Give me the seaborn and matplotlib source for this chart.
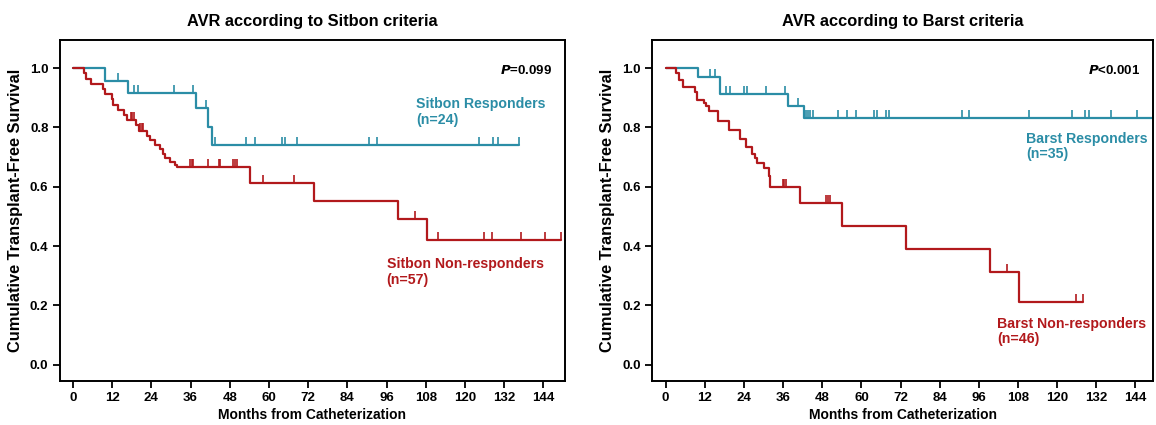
import numpy as np
import pandas as pd
import matplotlib
matplotlib.use('Agg')
import matplotlib.pyplot as plt
from matplotlib.path import Path
import seaborn as sns

# Sitbon responders (n=24)
sit_r_t = [9.9, 16.8, 37.6, 41.4, 42.5]
sit_r_s = [0.958, 0.917, 0.864, 0.800, 0.740]
sit_r_c = [13.8, 18.8, 19.8, 30.8, 36.9, 40.7, 43.6, 53.0, 55.6, 64.1, 65.0, 68.6,
           90.7, 93.1, 124.4, 128.7, 130.0, 136.6]

# Sitbon non-responders (n=57)
sit_n_t = [3.5, 4.1, 5.5, 9.1, 9.7, 11.9, 12.4, 13.7, 15.7, 16.5, 19.3, 20.3, 22.8,
           23.5, 25.2, 26.7, 27.5, 28.3, 29.8, 31.1, 31.8, 54.1, 73.9, 99.5, 108.4]
sit_n_s = [0.982, 0.965, 0.947, 0.930, 0.912, 0.895, 0.877, 0.860, 0.842, 0.825, 0.807,
           0.789, 0.772, 0.757, 0.742, 0.727, 0.712, 0.697, 0.684, 0.675, 0.665,
           0.611, 0.553, 0.490, 0.422]
sit_n_c = [17.8, 18.2, 18.8, 20.6, 21.1, 21.6, 35.9, 36.4, 36.9, 41.3, 44.6, 45.1,
           49.0, 49.5, 50.2, 58.3, 67.6, 104.6, 111.6, 125.9, 128.3, 137.1, 144.6, 149.5]

# Barst responders (n=35)
bar_r_t = [9.9, 16.5, 37.6, 42.5]
bar_r_s = [0.971, 0.912, 0.873, 0.831]
bar_r_c = [13.7, 15.1, 18.6, 19.6, 24.0, 24.8, 30.8, 36.7, 40.6, 43.1, 43.6, 44.1, 45.1,
           52.7, 55.6, 58.4, 64.0, 64.7, 67.6, 68.4, 90.8, 93.1, 111.4, 124.4, 128.5,
           129.8, 136.6, 144.4, 149.3]

# Barst non-responders (n=46)
bar_n_t = [3.3, 4.0, 5.3, 8.9, 9.6, 11.6, 12.4, 13.3, 16.0, 19.3, 22.8, 24.7, 26.5,
           27.5, 27.9, 30.0, 31.8, 32.1, 41.3, 54.0, 73.8, 99.5, 108.3]
bar_n_s = [0.983, 0.961, 0.938, 0.918, 0.893, 0.882, 0.873, 0.854, 0.822, 0.792, 0.760,
           0.735, 0.712, 0.696, 0.679, 0.662, 0.636, 0.598, 0.546, 0.467, 0.390, 0.312,
           0.211]
bar_n_c = [35.9, 36.4, 36.9, 41.3, 49.0, 49.7, 50.4, 104.6, 125.7, 127.9]

TEAL = '#2b8da6'
RED = '#b2191c'

sns.set_theme(style='white')
plt.rcParams['font.family'] = ['Liberation Sans', 'DejaVu Sans']
plt.rcParams['font.weight'] = 'bold'
plt.rcParams['text.color'] = 'black'
plt.rcParams['axes.labelcolor'] = 'black'

# censor tick: a short vertical stroke going up from the curve
tick = Path([(0, 0), (0, 1)], [Path.MOVETO, Path.LINETO])


def km_frame(times, surv, cens, name):
    end = max(cens + times)
    x = [0] + times + [end]
    y = [1.0] + surv + [surv[-1]]
    return pd.DataFrame({'t': x, 's': y, 'group': name})


def censor_y(times, surv, cens):
    steps_t = np.array([0] + times)
    steps_s = np.array([1.0] + surv)
    idx = np.searchsorted(steps_t, cens, side='right') - 1
    return steps_s[idx]


def panel(ax, curves, title, pval, xlim):
    for times, surv, cens, name, color in curves:
        df = km_frame(times, surv, cens, name)
        sns.lineplot(data=df, x='t', y='s', ax=ax, color=color, lw=1.6,
                     drawstyle='steps-post', estimator=None, sort=False)
        ax.plot(cens, censor_y(times, surv, cens), linestyle='none', marker=tick,
                markersize=11, mew=1.2, color=color)
    ax.set_xlim(*xlim)
    ax.set_ylim(-0.055, 1.095)
    ax.set_xticks(range(0, 145, 12))
    ax.set_yticks([0, 0.2, 0.4, 0.6, 0.8, 1.0])
    ax.set_yticklabels(['0.0', '0.2', '0.4', '0.6', '0.8', '1.0'])
    ax.tick_params(axis='both', direction='out', length=5, width=1.3, labelsize=9.5,
                   bottom=True, left=True, colors='black', pad=3)
    for lab in ax.get_xticklabels() + ax.get_yticklabels():
        lab.set_fontweight('bold')
    for sp in ax.spines.values():
        sp.set_color('black')
        sp.set_linewidth(1.4)
    ax.set_xlabel('Months from Catheterization', fontsize=10, fontweight='bold', labelpad=3)
    ax.set_ylabel('Cumulative Transplant-Free Survival', fontsize=11.8, fontweight='bold',
                  labelpad=5)
    ax.set_title(title, fontsize=11.8, fontweight='bold', pad=10)
    ax.text(0.975, 0.91, pval, transform=ax.transAxes, ha='right', va='center',
            fontsize=9.5, fontweight='bold', color='black')


fig = plt.figure(figsize=(11.56, 4.25), dpi=100)
ax1 = fig.add_axes([0.0515, 0.1035, 0.4375, 0.8025])
ax2 = fig.add_axes([0.564, 0.1035, 0.4335, 0.8025])

panel(ax1, [(sit_r_t, sit_r_s, sit_r_c, 'Sitbon Responders', TEAL),
            (sit_n_t, sit_n_s, sit_n_c, 'Sitbon Non-responders', RED)],
      'AVR according to Sitbon criteria', r'$\bf{\it{P}}$=0.099', (-4.1, 150.7))
panel(ax2, [(bar_r_t, bar_r_s, bar_r_c, 'Barst Responders', TEAL),
            (bar_n_t, bar_n_s, bar_n_c, 'Barst Non-responders', RED)],
      'AVR according to Barst criteria', r'$\bf{\it{P}}$<0.001', (-4.2, 149.4))

kw = dict(fontsize=10.2, fontweight='bold', va='center', ha='left', linespacing=1.15)
ax1.text(105.0, 0.852, 'Sitbon Responders\n(n=24)', color=TEAL, **kw)
ax1.text(96.0, 0.313, 'Sitbon Non-responders\n(n=57)', color=RED, **kw)
ax2.text(110.5, 0.736, 'Barst Responders\n(n=35)', color=TEAL, **kw)
ax2.text(101.5, 0.112, 'Barst Non-responders\n(n=46)', color=RED, **kw)

fig.savefig('out.png', dpi=100)
